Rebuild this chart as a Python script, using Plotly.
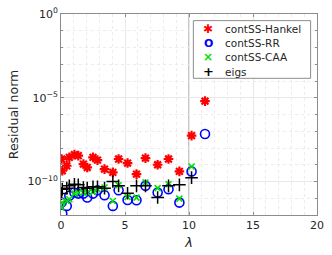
import plotly.graph_objects as go

lam = [0.05, 0.1, 0.45, 0.65, 1.05, 1.35, 1.75, 2.05, 2.5, 2.85, 3.4, 4.05,
       4.5, 5.2, 5.9, 6.6, 7.55, 8.4, 9.25, 10.2, 11.25]

hankel = [2.2e-9, 4.4e-10, 8.7e-10, 2.75e-9, 4.0e-9, 3.5e-9, 1.1e-9, 6.9e-10,
          2.75e-9, 1.9e-9, 5.5e-10, 3.5e-10, 2.2e-9, 1.26e-9, 2.75e-10, 2.5e-9,
          1.0e-9, 2.2e-9, 4.0e-10, 5.5e-8, 6.3e-6]
rr = [5.5e-12, 1.2e-12, 3.5e-12, 1.4e-11, 2.2e-11, 1.9e-11, 1.9e-11, 1.1e-11,
      1.9e-11, 3.0e-11, 1.5e-11, 3.5e-12, 3.0e-11, 7.9e-12, 7.6e-12, 5.5e-11,
      2.2e-11, 3.5e-11, 5.5e-12, 4.0e-10, 6.9e-8]
caa = [2.75e-12, 5.5e-12, 6.9e-12, 8.7e-12, 1.9e-11, 2.2e-11, 2.2e-11, 2.2e-11,
       2.4e-11, 3.5e-11, 4.4e-11, 6.9e-12, 6.0e-11, 1.2e-11, 1.1e-11, 8.7e-11,
       4.0e-11, 6.9e-11, 9.5e-12, 7.9e-10, None]
eigs = [1.9e-11, 3.5e-11, 4.0e-11, 5.5e-11, 6.9e-11, 6.3e-11, 4.4e-11, 4.0e-11,
        4.8e-11, 4.8e-11, 4.0e-11, 1.0e-10, 5.5e-11, 2.0e-11, 5.5e-11, 5.5e-11,
        1.1e-11, 5.5e-11, 6.3e-11, 1.7e-10, None]

series_names = ["contSS-Hankel", "contSS-RR", "contSS-CAA", "eigs"]
series_colors = ["red", "blue", "#00e000", "black"]
legend_glyphs = ["\u2731", "<b>O</b>", "<b>\u00d7</b>", "<b>+</b>"]

y_tickvals = [1e-10, 1e-5, 1]
y_ticktext = ["10<sup>\u221210</sup>", "10<sup>\u22125</sup>", "10<sup>0</sup>"]
x_tickvals = [0, 5, 10, 15, 20]
vline_x = 10

FONT = "DejaVu Sans, Liberation Sans, sans-serif"
TXT = "#262626"

fig = go.Figure()
fig.add_trace(go.Scatter(x=lam, y=hankel, mode="markers", name=series_names[0],
                         marker=dict(symbol="asterisk-open", size=8, color=series_colors[0],
                                     line=dict(color=series_colors[0], width=2.2))))
fig.add_trace(go.Scatter(x=lam, y=rr, mode="markers", name=series_names[1],
                         marker=dict(symbol="circle-open", size=9, color=series_colors[1],
                                     line=dict(color=series_colors[1], width=1.6))))
fig.add_trace(go.Scatter(x=lam, y=caa, mode="markers", name=series_names[2],
                         marker=dict(symbol="x-thin-open", size=6, color=series_colors[2],
                                     line=dict(color=series_colors[2], width=1.6))))
fig.add_trace(go.Scatter(x=lam, y=eigs, mode="markers", name=series_names[3],
                         marker=dict(symbol="cross-thin-open", size=9, color=series_colors[3],
                                     line=dict(color=series_colors[3], width=1.5))))

fig.add_shape(type="line", x0=vline_x, x1=vline_x, y0=0, y1=1, xref="x", yref="paper",
              line=dict(color="#b4b4b4", width=1.5), layer="below")

# legend box (drawn as a layout element so rows can be as compact as the original)
fig.add_shape(type="rect", xref="paper", yref="paper", x0=0.517, x1=0.975, y0=0.680, y1=0.967,
              line=dict(color="#8c8c8c", width=1), fillcolor="white", layer="above")
row_y = [0.925, 0.854, 0.784, 0.7125]
glyph_sizes = [12, 11, 12, 13]
for name, col, glyph, gy, gs in zip(series_names, series_colors, legend_glyphs, row_y, glyph_sizes):
    fig.add_annotation(xref="paper", yref="paper", x=0.575, y=gy, xanchor="center", yanchor="middle",
                       text=glyph, showarrow=False, font=dict(family=FONT, size=gs, color=col))
    fig.add_annotation(xref="paper", yref="paper", x=0.634, y=gy, xanchor="left", yanchor="middle",
                       text=name, showarrow=False, font=dict(family=FONT, size=10.5, color=TXT))

axis_common = dict(showline=True, linecolor="#8c8c8c", linewidth=1, mirror="ticks",
                   ticks="inside", ticklen=3, tickcolor="#8c8c8c", automargin=False,
                   gridcolor="#e8e8e8", gridwidth=1, zeroline=False,
                   tickfont=dict(family=FONT, size=11, color=TXT))

fig.update_xaxes(range=[0, 20], tickvals=x_tickvals, **axis_common,
                 minor=dict(dtick=1, showgrid=True, gridcolor="#ececec", griddash="dot",
                            ticks=""),
                 title=dict(text="<i>\u03bb</i>", font=dict(family=FONT, size=13, color=TXT),
                            standoff=6))
fig.update_yaxes(type="log", range=[-12, 0], tickvals=y_tickvals, ticktext=y_ticktext,
                 **axis_common,
                 minor=dict(dtick=1, showgrid=True, gridcolor="#ececec", griddash="dot",
                            ticks="inside", ticklen=2, tickcolor="#8c8c8c"),
                 title=dict(text="Residual norm", font=dict(family=FONT, size=12.5, color=TXT),
                            standoff=6))

fig.update_layout(
    width=332, height=255,
    margin=dict(l=61, r=15, t=14, b=40),
    plot_bgcolor="white", paper_bgcolor="white",
    font=dict(family=FONT, size=10, color=TXT),
    showlegend=False,
)

fig.write_html("out.html", config={"displayModeBar": False},
               post_script="document.body.style.margin='0';document.body.style.padding='0';document.body.style.overflow='hidden';")
